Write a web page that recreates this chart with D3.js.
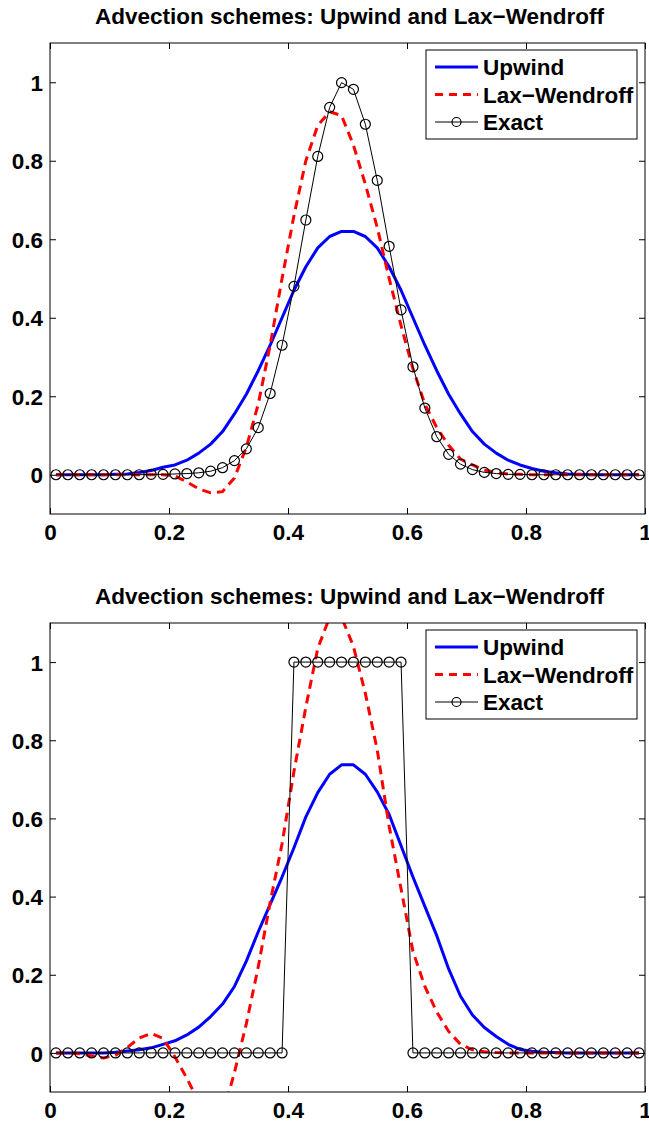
<!DOCTYPE html>
<html>
<head>
<meta charset="utf-8">
<script src="https://cdn.jsdelivr.net/npm/d3@7"></script>
<style>
body{margin:0;background:#fff;}
text{font-family:"Liberation Sans",Arial,Helvetica,sans-serif;font-weight:bold;fill:#000;}
</style>
</head>
<body>
<svg id="chart" width="649" height="1125"></svg>
<script>
// grid points (cell centres)
var xs = [0.01,0.03,0.05,0.07,0.09,0.11,0.13,0.15,0.17,0.19,
          0.21,0.23,0.25,0.27,0.29,0.31,0.33,0.35,0.37,0.39,
          0.41,0.43,0.45,0.47,0.49,0.51,0.53,0.55,0.57,0.59,
          0.61,0.63,0.65,0.67,0.69,0.71,0.73,0.75,0.77,0.79,
          0.81,0.83,0.85,0.87,0.89,0.91,0.93,0.95,0.97,0.99];

// top panel : smooth pulse
var upwindTop = [0,0,0,0,0,0.001,0.002,0.006,0.011,0.019,
                 0.025,0.037,0.055,0.078,0.11,0.155,0.205,0.265,0.33,0.40,
                 0.47,0.53,0.578,0.607,0.62,0.62,0.607,0.578,0.53,0.47,
                 0.40,0.33,0.265,0.205,0.155,0.11,0.078,0.055,0.037,0.025,
                 0.016,0.009,0.005,0.002,0.001,0,0,0,0,0];
var laxTop = [0,0,0,0,0,0,0,0,0,0,
              -0.003,-0.018,-0.036,-0.046,-0.043,-0.008,0.07,0.18,0.33,0.50,
              0.66,0.80,0.89,0.925,0.915,0.84,0.74,0.63,0.50,0.38,
              0.27,0.18,0.12,0.075,0.04,0.025,0.012,0.005,0.002,0.001,
              0,0,0,0,0,0,0,0,0,0];
var exactTop = [0,0,0,0,0,0,0,0,0.001,0.001,
                0.002,0.003,0.005,0.009,0.018,0.036,0.066,0.12,0.207,0.33,
                0.48,0.649,0.811,0.936,0.999,0.982,0.893,0.75,0.582,0.42,
                0.275,0.17,0.097,0.052,0.027,0.013,0.006,0.003,0.001,0.001,
                0,0,0,0,0,0,0,0,0,0];

// bottom panel : square pulse
var upwindBot = [0,0,0,0,0,0.002,0.005,0.008,0.013,0.022,
                 0.031,0.046,0.066,0.093,0.125,0.17,0.235,0.31,0.38,0.45,
                 0.525,0.604,0.666,0.713,0.737,0.737,0.713,0.668,0.61,0.53,
                 0.45,0.375,0.30,0.215,0.145,0.097,0.065,0.042,0.022,0.009,
                 0.004,0.002,0.001,0,0,0,0,0,0,0];
var laxBot = [0,0,-0.002,-0.008,-0.013,-0.006,0.014,0.038,0.05,0.037,
              -0.01,-0.065,-0.125,-0.175,-0.16,-0.05,0.075,0.22,0.385,0.535,
              0.72,0.885,1.035,1.115,1.115,1.04,0.92,0.775,0.58,0.42,
              0.26,0.17,0.105,0.055,0.022,0.008,0.003,0.001,0,0,
              0,0,0,0,0,0,0,0,0,0];
var exactBot = [0,0,0,0,0,0,0,0,0,0,
                0,0,0,0,0,0,0,0,0,0,
                1,1,1,1,1,1,1,1,1,1,
                0,0,0,0,0,0,0,0,0,0,
                0,0,0,0,0,0,0,0,0,0];

var xTicks = [0,0.2,0.4,0.6,0.8,1];
var yTicks = [0,0.2,0.4,0.6,0.8,1];
var xTickLabels = ["0","0.2","0.4","0.6","0.8","1"];
var yTickLabels = ["0","0.2","0.4","0.6","0.8","1"];
var titleText = "Advection schemes: Upwind and Lax\u2212Wendroff";
var legendNames = ["Upwind","Lax\u2212Wendroff","Exact"];

var svg = d3.select("#chart");
var fontSize = 22.5;
var tickLen = 6;
var left = 50, right = 645;

function drawPanel(id, top, bottom, upwind, lax, exact)
{
	var g = svg.append("g").attr("id", id);
	var x = d3.scaleLinear().domain([0,1]).range([left,right]);
	var y = d3.scaleLinear().domain([-0.1,1.1]).range([bottom,top]);

	//clip region
	g.append("clipPath").attr("id","clip"+id)
		.append("rect").attr("x",left).attr("y",top).attr("width",right-left).attr("height",bottom-top);

	var plot = g.append("g").attr("clip-path","url(#clip"+id+")");
	var line = d3.line().x(function(d,i){return x(xs[i]);}).y(function(d){return y(d);});

	plot.append("path").attr("d",line(upwind))
		.attr("fill","none").attr("stroke","#0000ff").attr("stroke-width",3).attr("stroke-linejoin","round");
	plot.append("path").attr("d",line(lax))
		.attr("fill","none").attr("stroke","#ff0000").attr("stroke-width",3).attr("stroke-dasharray","9,6");
	plot.append("path").attr("d",line(exact))
		.attr("fill","none").attr("stroke","#000").attr("stroke-width",1);
	plot.selectAll("circle.m").data(exact).enter().append("circle")
		.attr("class","m")
		.attr("cx",function(d,i){return x(xs[i]);})
		.attr("cy",function(d){return y(d);})
		.attr("r",5).attr("fill","none").attr("stroke","#000").attr("stroke-width",1.2);

	//box
	g.append("rect").attr("x",left).attr("y",top).attr("width",right-left).attr("height",bottom-top)
		.attr("fill","none").attr("stroke","#000").attr("stroke-width",1);

	//axes (ticks pointing inward, labels outside)
	var xAxis = d3.axisBottom(x).tickValues(xTicks).tickSize(-tickLen).tickPadding(0).tickFormat(function(d,i){return xTickLabels[i];});
	var xa = g.append("g").attr("transform","translate(0,"+bottom+")").call(xAxis);
	xa.select(".domain").remove();
	xa.selectAll("text").attr("dy",null).attr("y",26).attr("font-size",fontSize)
		.style("font-family",'"Liberation Sans",Arial,sans-serif').style("font-weight","bold");

	var xTop = d3.axisTop(x).tickValues(xTicks).tickSize(-tickLen).tickFormat("");
	var xt = g.append("g").attr("transform","translate(0,"+top+")").call(xTop);
	xt.select(".domain").remove();

	var yAxis = d3.axisLeft(y).tickValues(yTicks).tickSize(-tickLen).tickPadding(7).tickFormat(function(d,i){return yTickLabels[i];});
	var ya = g.append("g").attr("transform","translate("+left+",0)").call(yAxis);
	ya.select(".domain").remove();
	ya.selectAll("text").attr("dy","0.36em").attr("font-size",fontSize)
		.style("font-family",'"Liberation Sans",Arial,sans-serif').style("font-weight","bold");

	var yRight = d3.axisRight(y).tickValues(yTicks).tickSize(-tickLen).tickFormat("");
	var yr = g.append("g").attr("transform","translate("+right+",0)").call(yRight);
	yr.select(".domain").remove();

	g.selectAll(".tick line").attr("stroke","#000");

	//title
	g.append("text").attr("x",(left+right)/2+2).attr("y",top-19).attr("text-anchor","middle")
		.attr("font-size",fontSize).text(titleText);

	//legend
	var lg = g.append("g").attr("transform","translate(426,"+(top+7)+")");
	lg.append("rect").attr("x",0).attr("y",0).attr("width",211).attr("height",89)
		.attr("fill","#fff").attr("stroke","#000").attr("stroke-width",1);
	var rowY = [17, 44.5, 72];
	var styles = [
		{c:"#0000ff",w:3,dash:null,mark:false},
		{c:"#ff0000",w:3,dash:"8,6",mark:false},
		{c:"#000",w:1,dash:null,mark:true}
	];
	for(var i in legendNames)
	{
		var s = styles[i];
		lg.append("line").attr("x1",9).attr("x2",52).attr("y1",rowY[i]).attr("y2",rowY[i])
			.attr("stroke",s.c).attr("stroke-width",s.w).attr("stroke-dasharray",s.dash);
		if(s.mark)
			lg.append("circle").attr("cx",30.5).attr("cy",rowY[i]).attr("r",4.5)
				.attr("fill","none").attr("stroke","#000").attr("stroke-width",1.2);
		lg.append("text").attr("x",57).attr("y",rowY[i]+8).attr("font-size",fontSize).text(legendNames[i]);
	}
}

drawPanel("p1", 43, 514, upwindTop, laxTop, exactTop);
drawPanel("p2", 623, 1092, upwindBot, laxBot, exactBot);
</script>
</body>
</html>
